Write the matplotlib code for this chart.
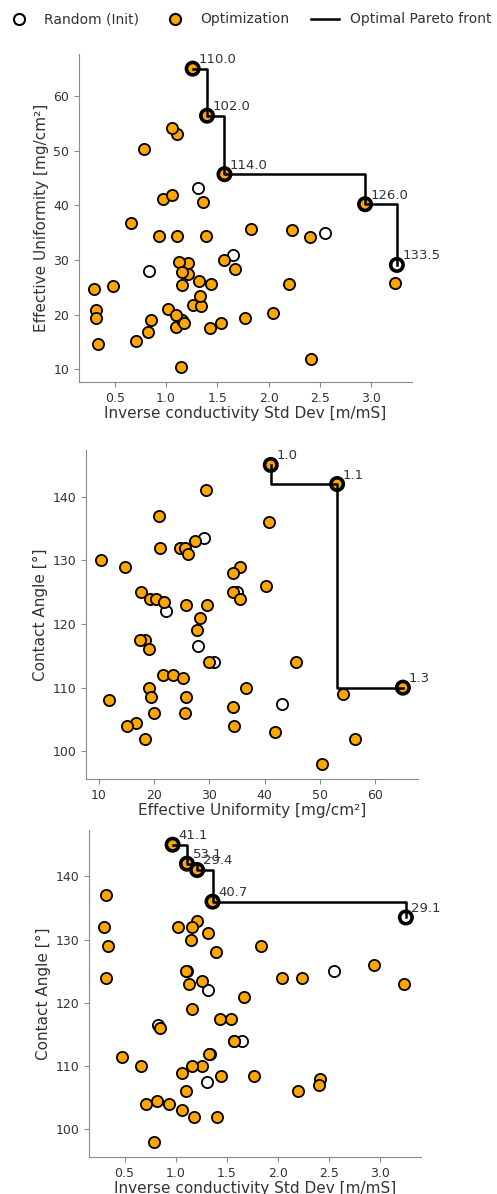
import numpy as np
import matplotlib
matplotlib.use("Agg")
import matplotlib.pyplot as plt
from matplotlib.lines import Line2D

# objectives per sample: inverse conductivity std dev, effective uniformity, contact angle
ics = [0.97, 1.11, 1.26, 1.21, 0.32, 1.36, 3.25, 1.21, 0.30, 1.16,
       1.02, 1.32, 1.15, 0.34, 1.83, 1.39, 2.94, 2.55, 1.11, 2.23,
       1.10, 0.32, 2.04, 1.26, 1.32, 3.23, 1.13, 1.67, 1.16, 0.83,
       1.54, 1.43, 0.85, 1.65, 1.57, 1.57, 0.66, 1.34, 1.33, 0.48,
       1.16, 1.77, 1.44, 2.41, 1.06, 1.31, 2.40, 1.10, 2.20, 0.82,
       0.71, 0.93, 1.06, 1.18, 1.40, 0.79]
eu = [41.1, 53.1, 65.0, 29.4, 20.9, 40.7, 29.1, 27.4, 24.7, 25.5,
      21.1, 26.1, 10.4, 14.7, 35.6, 34.3, 40.2, 34.9, 34.3, 35.5,
      17.7, 19.3, 20.3, 21.7, 22.2, 25.8, 29.6, 28.3, 27.8, 28.0,
      18.4, 17.5, 19.1, 30.9, 30.0, 45.7, 36.7, 21.6, 23.5, 25.3,
      19.0, 19.4, 25.7, 11.9, 54.1, 43.1, 34.2, 19.9, 25.6, 16.8,
      15.1, 34.4, 41.8, 18.4, 56.4, 50.3]
ca = [145.0, 142.0, 110.0, 141.0, 137.0, 136.0, 133.5, 133.0, 132.0, 132.0,
      132.0, 131.0, 130.0, 129.0, 129.0, 128.0, 126.0, 125.0, 125.0, 124.0,
      125.0, 124.0, 124.0, 123.5, 122.0, 123.0, 123.0, 121.0, 119.0, 116.5,
      117.5, 117.5, 116.0, 114.0, 114.0, 114.0, 110.0, 112.0, 112.0, 111.5,
      110.0, 108.5, 108.5, 108.0, 109.0, 107.5, 107.0, 106.0, 106.0, 104.5,
      104.0, 104.0, 103.0, 102.0, 102.0, 98.0]
# True -> random initial sample, False -> optimization sample
is_init = [False, False, False, False, False, False, True, False, False, False,
           False, False, False, False, False, False, False, True, False, False,
           False, False, False, False, True, False, False, False, False, True,
           False, False, False, True, False, False, False, False, False, False,
           False, False, False, False, False, True, False, False, False, False,
           False, False, False, False, False, False]

# indices of the pareto front members for each pair of objectives
front_ics_eu = [2, 54, 35, 16, 6]
front_eu_ca = [0, 1, 2]
front_ics_ca = [0, 1, 3, 5, 6]

data = {"ics": np.array(ics), "eu": np.array(eu), "ca": np.array(ca)}
init = np.array(is_init)

TEXT = "#333333"
SPINE = "#8a8a8a"
plt.rcParams.update({
    "font.size": 10,
    "text.color": TEXT,
    "axes.labelcolor": TEXT,
    "xtick.color": SPINE,
    "ytick.color": SPINE,
    "xtick.labelcolor": TEXT,
    "ytick.labelcolor": TEXT,
    "xtick.labelsize": 9,
    "ytick.labelsize": 9,
    "axes.edgecolor": SPINE,
})

fig = plt.figure(figsize=(4.97, 11.94), dpi=100)

panels = [
    # x key, y key, label key, front, step style, xlabel, ylabel, rect
    ("ics", "eu", "ca", front_ics_eu, "steps-post",
     "Inverse conductivity Std Dev [m/mS]", "Effective Uniformity [mg/cm²]",
     [0.159, 0.680, 0.670, 0.275]),
    ("eu", "ca", "ics", front_eu_ca, "steps-pre",
     "Effective Uniformity [mg/cm²]", "Contact Angle [°]",
     [0.173, 0.3476, 0.668, 0.2755]),
    ("ics", "ca", "eu", front_ics_ca, "steps-post",
     "Inverse conductivity Std Dev [m/mS]", "Contact Angle [°]",
     [0.179, 0.031, 0.668, 0.274]),
]

for xk, yk, lk, front, ds, xlabel, ylabel, rect in panels:
    ax = fig.add_axes(rect)
    x, y, lab = data[xk], data[yk], data[lk]

    ax.scatter(x[init], y[init], s=65, facecolor="white", edgecolor="black",
               linewidth=1.3, zorder=2)
    ax.scatter(x[~init], y[~init], s=65, facecolor="orange", edgecolor="black",
               linewidth=1.3, zorder=2)

    fr = np.array(front)
    fr = fr[np.argsort(x[fr])]
    fc = np.where(init[fr], "white", "orange")
    ax.scatter(x[fr], y[fr], s=80, facecolor=fc, edgecolor="black",
               linewidth=2.6, zorder=3)
    ax.plot(x[fr], y[fr], drawstyle=ds, color="black", lw=1.8, zorder=4)
    for i in fr:
        ax.annotate(f"{lab[i]:.1f}", (x[i], y[i]), xytext=(4, 4),
                    textcoords="offset points", fontsize=9.5, color=TEXT,
                    zorder=5)

    ax.set_xlabel(xlabel, fontsize=11, labelpad=1)
    ax.set_ylabel(ylabel, fontsize=11, labelpad=3)
    ax.spines["top"].set_visible(False)
    ax.spines["right"].set_visible(False)

handles = [
    Line2D([], [], marker="o", ls="none", markersize=8, markerfacecolor="white",
           markeredgecolor="black", markeredgewidth=1.5, label="Random (Init)"),
    Line2D([], [], marker="o", ls="none", markersize=8, markerfacecolor="orange",
           markeredgecolor="black", markeredgewidth=1.5, label="Optimization"),
    Line2D([], [], color="black", lw=1.8, label="Optimal Pareto front"),
]
fig.legend(handles=handles, loc="upper center", bbox_to_anchor=(0.5, 1.0),
           ncol=3, frameon=False, fontsize=10, handlelength=2.0,
           columnspacing=1.6, handletextpad=0.8)

fig.savefig("out.png", dpi=100)
